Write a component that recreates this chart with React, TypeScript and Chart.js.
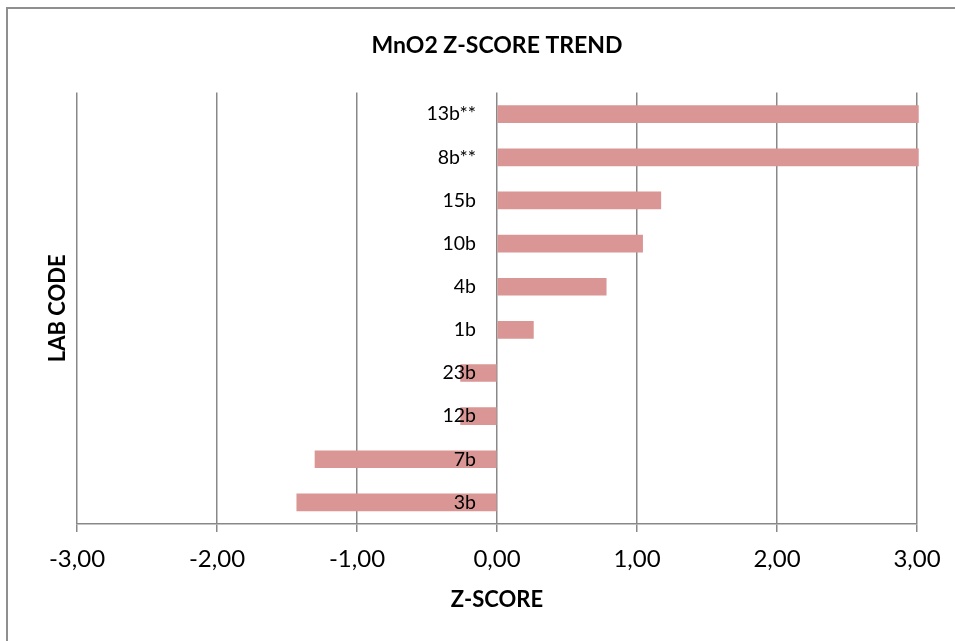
import { useEffect, useRef } from "react";
import { Chart, registerables } from "chart.js";

Chart.register(...registerables);

const categories = ["13b**", "8b**", "15b", "10b", "4b", "1b", "23b", "12b", "7b", "3b"];
const zScores = [3.01, 3.01, 1.17, 1.04, 0.78, 0.26, -0.26, -0.26, -1.3, -1.43];
const xTickValues = [-3, -2, -1, 0, 1, 2, 3];

const chartTitle = "MnO2 Z-SCORE TREND";
const xTitle = "Z-SCORE";
const yTitle = "LAB CODE";

const FONT = "Lato";

export default function App() {
  const canvasRef = useRef<HTMLCanvasElement | null>(null);

  useEffect(() => {
    const canvas = canvasRef.current;
    if (!canvas) return;
    const chart = new Chart(canvas, {
      type: "bar",
      data: {
        labels: categories,
        datasets: [
          {
            data: zScores,
            backgroundColor: "#D99694",
            borderWidth: 0,
            barThickness: 17,
            yAxisID: "y",
            clip: false as any,
          },
        ],
      },
      options: {
        indexAxis: "y",
        responsive: false,
        animation: false,
        devicePixelRatio: 1,
        layout: { padding: { left: 0, right: 38, top: 0, bottom: 0 } },
        plugins: {
          legend: { display: false },
          tooltip: { enabled: false },
          title: {
            display: true,
            fullSize: false,
            text: chartTitle,
            color: "#000",
            font: { family: FONT, size: 23, weight: "bold" },
            padding: { top: 32, bottom: 33 },
          },
        },
        scales: {
          x: {
            type: "linear",
            min: -3,
            max: 3,
            afterBuildTicks: (s: any) => {
              s.ticks = xTickValues.map((v) => ({ value: v }));
            },
            ticks: {
              color: "#000",
              font: { family: FONT, size: 24 },
              padding: 13,
              callback: (v: any) => Number(v).toFixed(2).replace(".", ","),
            },
            grid: { color: "#888", lineWidth: 1.5, tickLength: 8, drawTicks: true },
            border: { color: "#888", width: 1.5 },
            title: {
              display: true,
              text: xTitle,
              color: "#000",
              font: { family: FONT, size: 22, weight: "bold" },
              padding: { top: 0, bottom: 28 },
            },
            afterFit: (s: any) => {
              s.height = 117;
            },
          },
          y: {
            type: "category",
            position: "left",
            offset: true,
            ticks: { display: false },
            grid: { display: false },
            border: { display: false },
            title: {
              display: true,
              text: yTitle,
              color: "#000",
              font: { family: FONT, size: 22, weight: "bold" },
              padding: { top: 45, bottom: 0 },
            },
            afterFit: (s: any) => {
              s.width = 77;
            },
          },
          y2: {
            type: "category",
            axis: "y",
            position: { x: -0.15 } as any,
            offset: true,
            ticks: { color: "#000", font: { family: FONT, size: 19.5 }, z: 1 },
            grid: { display: false },
            border: { display: false },
          } as any,
        },
      },
    });
    return () => chart.destroy();
  }, []);

  return (
    <div
      style={{
        position: "absolute",
        left: 0,
        top: 0,
        width: 955,
        height: 641,
        overflow: "hidden",
        background: "#fff",
      }}
    >
      <canvas ref={canvasRef} width={955} height={641} style={{ display: "block", width: 955, height: 641 }} />
      <div
        style={{
          position: "absolute",
          left: 6,
          top: 7,
          right: -10,
          bottom: -10,
          borderLeft: "2px solid #8f8f8f",
          borderTop: "2px solid #8f8f8f",
          pointerEvents: "none",
        }}
      />
    </div>
  );
}
